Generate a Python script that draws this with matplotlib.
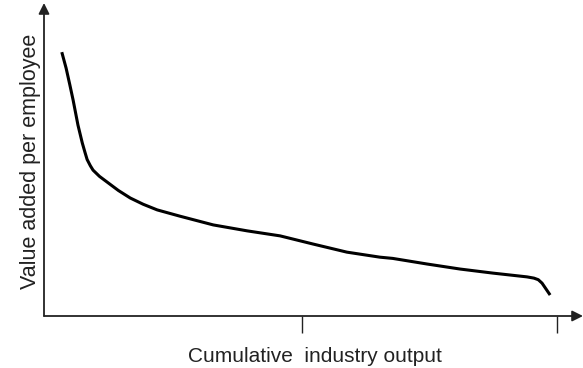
import matplotlib.pyplot as plt

plt.rcParams['font.family'] = ['Liberation Sans', 'DejaVu Sans']

# x = cumulative output (% of axis), y = value added (% of axis)
output_share = [3.3, 4.1, 4.8, 5.4, 6.3, 7.1, 7.6, 8.0, 8.6, 9.1, 10.3, 11.7,
                13.8, 16.0, 18.4, 21.0, 25.2, 31.4, 37.7, 43.8, 49.9, 56.2,
                62.3, 64.7, 71.1, 77.2, 83.3, 89.6, 90.9, 91.7, 92.4, 93.9]
value_added = [84.3, 79.2, 73.8, 69.0, 61.0, 55.3, 52.3, 50.0, 48.0, 46.6, 44.6,
               42.8, 40.1, 37.7, 35.7, 33.9, 31.9, 29.1, 27.2, 25.6, 23.0, 20.4,
               18.8, 18.4, 16.6, 15.0, 13.7, 12.5, 12.1, 11.6, 10.5, 6.7]
tick_pos = [47.9, 95.2]

fig = plt.figure(figsize=(5.83, 3.68), dpi=100)
ax = fig.add_axes([44 / 583, 52 / 368, 539 / 583, 313 / 368])
ax.set_xlim(0, 100)
ax.set_ylim(0, 100)

ax.plot(output_share, value_added, color='black', lw=2.2,
        solid_joinstyle='round', solid_capstyle='butt')

for s in ax.spines.values():
    s.set_visible(False)

# axes with arrow heads
arrow = dict(arrowstyle='-|>', color='#222222', lw=1.3, mutation_scale=16,
             shrinkA=0, shrinkB=0)
ax.annotate('', xy=(1, 0), xytext=(0, 0), xycoords='axes fraction',
            arrowprops=arrow, annotation_clip=False)
ax.annotate('', xy=(0, 1), xytext=(0, 0), xycoords='axes fraction',
            arrowprops=arrow, annotation_clip=False)

ax.set_yticks([])
ax.set_xticks(tick_pos)
ax.set_xticklabels([])
ax.tick_params(axis='x', direction='out', length=12, width=1.0, color='#222222')

fig.text(315 / 583, 1 - 362 / 368, 'Cumulative  industry output',
         ha='center', va='baseline', fontsize=15, color='#222222')
fig.text(31 / 583, 1 - 161 / 368, 'Value added per employee', rotation=90,
         ha='center', va='center', fontsize=15.5, color='#222222')

fig.savefig('out.png', dpi=100)
